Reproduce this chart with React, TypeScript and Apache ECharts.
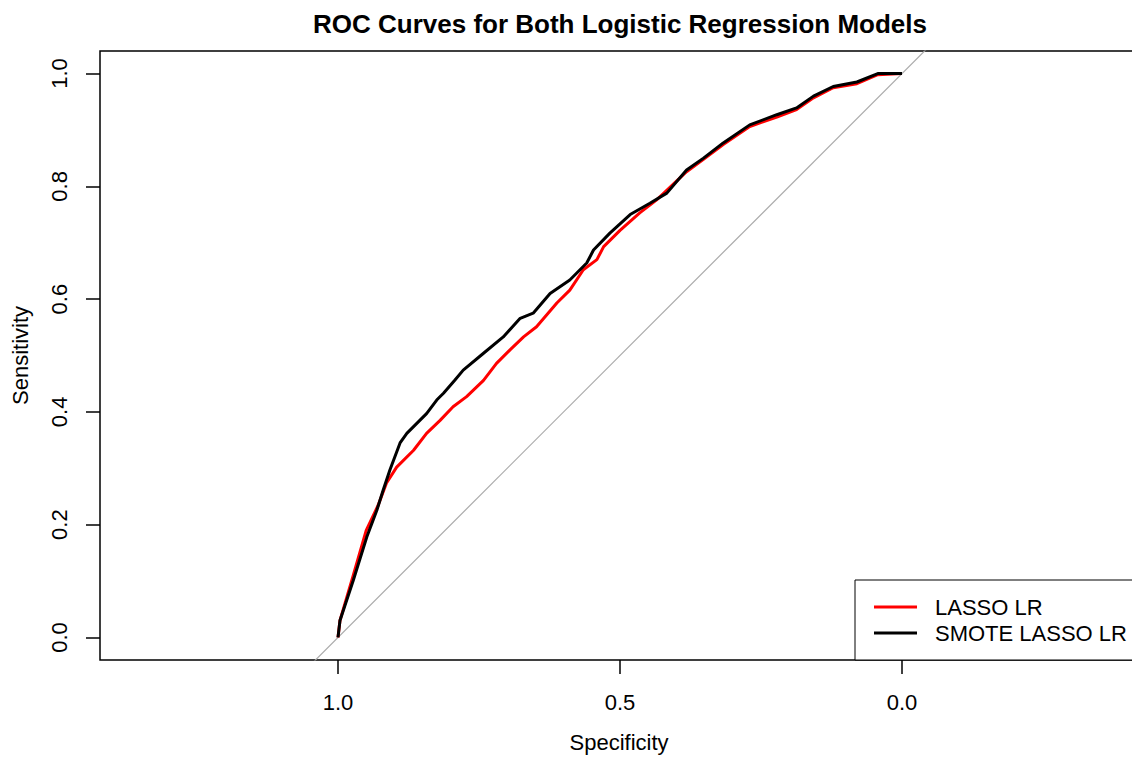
import React, { useEffect, useRef } from "react";
import * as echarts from "echarts";

const chartTitle = "ROC Curves for Both Logistic Regression Models";
const xAxisTitle = "Specificity";
const yAxisTitle = "Sensitivity";
const xTickValues = [1.0, 0.5, 0.0];
const yTickValues = [0.0, 0.2, 0.4, 0.6, 0.8, 1.0];
const seriesNames = ["LASSO LR", "SMOTE LASSO LR"];

const lassoSpecificity = [
  1.0, 0.9965, 0.973, 0.95, 0.929, 0.914, 0.896, 0.866, 0.843, 0.819, 0.796, 0.772,
  0.742, 0.719, 0.695, 0.671, 0.648, 0.612, 0.589, 0.565, 0.541, 0.529, 0.5, 0.465,
  0.435, 0.382, 0.352, 0.317, 0.27, 0.222, 0.187, 0.157, 0.122, 0.08, 0.043, 0.0,
];
const lassoSensitivity = [
  0.0, 0.03, 0.11, 0.19, 0.234, 0.274, 0.302, 0.332, 0.362, 0.385, 0.409, 0.427,
  0.456, 0.486, 0.51, 0.533, 0.551, 0.593, 0.616, 0.652, 0.67, 0.693, 0.722, 0.753,
  0.776, 0.826, 0.848, 0.874, 0.906, 0.923, 0.936, 0.957, 0.975, 0.982, 0.998, 1.0,
];
const smoteSpecificity = [
  1.0, 0.9965, 0.973, 0.949, 0.931, 0.92, 0.908, 0.89, 0.878, 0.855, 0.843, 0.825,
  0.813, 0.793, 0.778, 0.742, 0.707, 0.677, 0.654, 0.624, 0.589, 0.559, 0.547, 0.518,
  0.482, 0.447, 0.417, 0.382, 0.352, 0.317, 0.27, 0.222, 0.187, 0.157, 0.122, 0.08,
  0.043, 0.0,
];
const smoteSensitivity = [
  0.0, 0.03, 0.101, 0.178, 0.226, 0.261, 0.297, 0.345, 0.362, 0.385, 0.397, 0.421,
  0.433, 0.456, 0.474, 0.504, 0.533, 0.566, 0.575, 0.61, 0.634, 0.664, 0.687, 0.717,
  0.75, 0.77, 0.788, 0.829, 0.85, 0.877, 0.909, 0.927, 0.939, 0.96, 0.977, 0.985,
  1.0, 1.0,
];
const diagonalSpecificity = [1.6, -0.6];

const FONT = "'Liberation Sans', Arial, Helvetica, sans-serif";

export default function App() {
  const ref = useRef<HTMLDivElement>(null);
  useEffect(() => {
    const chart = echarts.init(ref.current!, null, { renderer: "svg" });
    const pair = (xs: number[], ys: number[]) => xs.map((x, i) => [x, ys[i]]);
    chart.setOption({
      animation: false,
      backgroundColor: "#ffffff",
      title: {
        text: chartTitle,
        left: "center",
        top: 11,
        padding: 0,
        textStyle: { fontFamily: FONT, fontSize: 26, fontWeight: "bold", color: "#000" },
      },
      grid: {
        left: 100,
        right: 102,
        top: 51,
        bottom: 98,
        show: true,
        borderColor: "#000",
        borderWidth: 1.5,
        backgroundColor: "transparent",
      },
      legend: {
        data: seriesNames,
        orient: "vertical",
        left: 855,
        top: 580,
        padding: [16, 40, 16, 19],
        itemWidth: 43,
        itemHeight: 3,
        itemGap: 4,
        icon: "rect",
        backgroundColor: "#fff",
        borderColor: "#000",
        borderWidth: 1,
        borderRadius: 0,
        textStyle: { fontFamily: FONT, fontSize: 22, color: "#000", padding: [0, 0, 0, 13] },
      },
      xAxis: {
        type: "value",
        inverse: true,
        min: -0.4184,
        max: 1.422,
        name: xAxisTitle,
        nameLocation: "middle",
        nameGap: 71,
        nameTextStyle: { fontFamily: FONT, fontSize: 22, color: "#000" },
        splitLine: { show: false },
        axisLine: { show: false, onZero: false },
        axisTick: {
          show: true,
          customValues: xTickValues,
          length: 14,
          lineStyle: { color: "#000", width: 1.5 },
        },
        axisLabel: {
          customValues: xTickValues,
          margin: 31,
          fontFamily: FONT,
          fontSize: 22,
          color: "#000",
          formatter: (v: number) => v.toFixed(1),
        },
      },
      yAxis: {
        type: "value",
        min: -0.04,
        max: 1.04,
        name: yAxisTitle,
        nameLocation: "middle",
        nameGap: 69,
        nameRotate: 90,
        nameTextStyle: { fontFamily: FONT, fontSize: 22, color: "#000" },
        splitLine: { show: false },
        axisLine: { show: false, onZero: false },
        axisTick: {
          show: true,
          customValues: yTickValues,
          length: 14,
          lineStyle: { color: "#000", width: 1.5 },
        },
        axisLabel: {
          customValues: yTickValues,
          rotate: 90,
          margin: 30,
          fontFamily: FONT,
          fontSize: 22,
          color: "#000",
          formatter: (v: number) => v.toFixed(1),
        },
      },
      series: [
        {
          name: "diagonal",
          type: "line",
          data: diagonalSpecificity.map((s) => [s, 1 - s]),
          showSymbol: false,
          silent: true,
          lineStyle: { color: "#aaaaaa", width: 1.2 },
          itemStyle: { color: "#aaaaaa" },
          clip: true,
        },
        {
          name: seriesNames[0],
          type: "line",
          data: pair(lassoSpecificity, lassoSensitivity),
          showSymbol: false,
          lineStyle: { color: "#ff0000", width: 3 },
          itemStyle: { color: "#ff0000" },
          clip: true,
        },
        {
          name: seriesNames[1],
          type: "line",
          data: pair(smoteSpecificity, smoteSensitivity),
          showSymbol: false,
          lineStyle: { color: "#000000", width: 3 },
          itemStyle: { color: "#000000" },
          clip: true,
        },
      ],
    });
    return () => chart.dispose();
  }, []);
  return (
    <div
      style={{
        position: "fixed",
        left: 0,
        top: 0,
        width: 1132,
        height: 758,
        overflow: "hidden",
        background: "#fff",
      }}
    >
      <div ref={ref} style={{ width: 1240, height: 758 }} />
    </div>
  );
}
